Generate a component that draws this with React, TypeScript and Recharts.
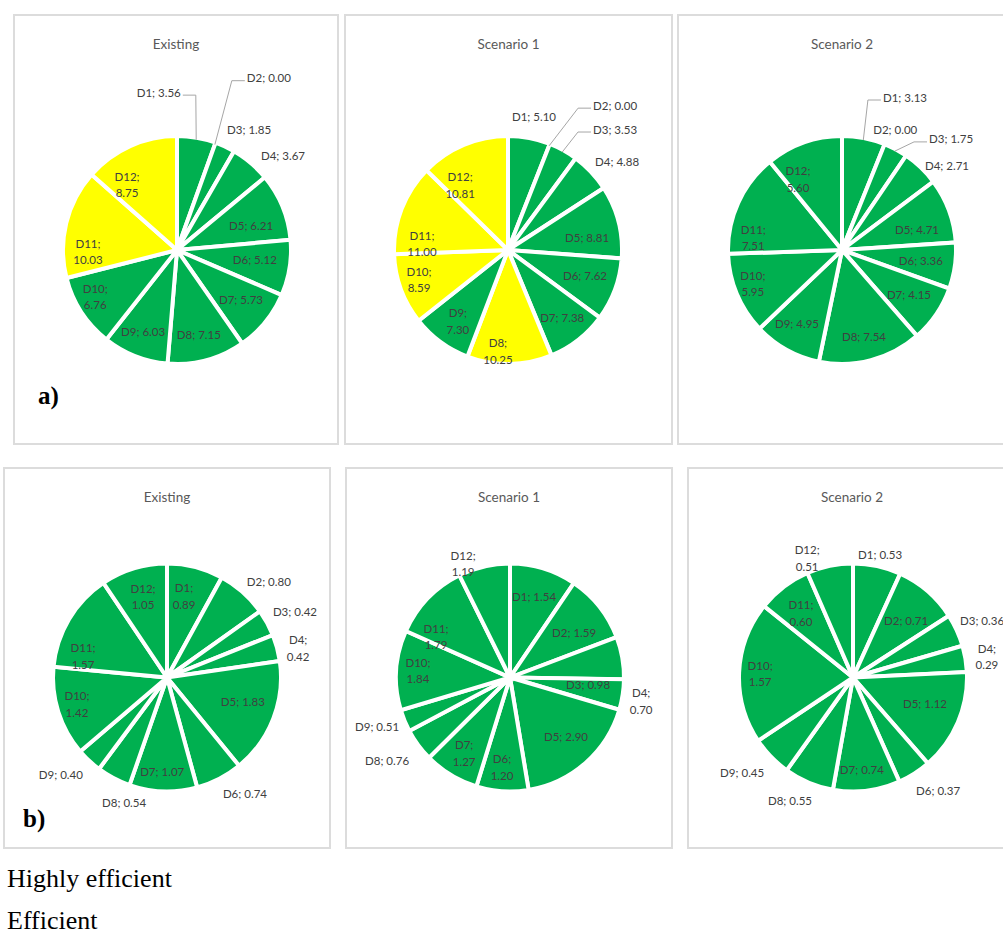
import React from "react"
import { PieChart, Pie, Cell } from "recharts"

// ---- data ----
const districts = ["D1", "D2", "D3", "D4", "D5", "D6", "D7", "D8", "D9", "D10", "D11", "D12"]

const aExisting = [3.56, 0.0, 1.85, 3.67, 6.21, 5.12, 5.73, 7.15, 6.03, 6.76, 10.03, 8.75]
const aScenario1 = [5.1, 0.0, 3.53, 4.88, 8.81, 7.62, 7.38, 10.25, 7.3, 8.59, 11.0, 10.81]
const aScenario2 = [3.13, 0.0, 1.75, 2.71, 4.71, 3.36, 4.15, 7.54, 4.95, 5.95, 7.51, 5.6]

const bExisting = [0.89, 0.8, 0.42, 0.42, 1.83, 0.74, 1.07, 0.54, 0.4, 1.42, 1.57, 1.05]
const bScenario1 = [1.54, 1.59, 0.98, 0.7, 2.9, 1.2, 1.27, 0.76, 0.51, 1.84, 1.79, 1.19]
const bScenario2 = [0.53, 0.71, 0.36, 0.29, 1.12, 0.37, 0.74, 0.55, 0.45, 1.57, 0.6, 0.51]

// districts drawn in yellow (the rest are green)
const aExistingYellow = ["D11", "D12"]
const aScenario1Yellow = ["D8", "D10", "D11", "D12"]
const noYellow: string[] = []

const legendItems = ["Highly efficient", "Efficient"]

// ---- label layout: [radius factor, angle shift (deg, clockwise), lines, leader anchor] ----
type L = [number, number, number, string?]
const layA1: L[] = [
  [1.41, -8.5, 1, "end"], [1.66, 2.3, 1, "start"], [1.25, 6.1, 1], [1.265, 8.2, 1],
  [0.695, 4.4, 1], [0.7, -1.8, 1], [0.725, -1.2, 1], [0.78, 0.6, 1],
  [0.79, 1, 1], [0.84, 3.4, 2], [0.795, -14.6, 2], [0.735, -13.1, 2],
]
const layA2: L[] = [
  [1.21, 0.3, 1], [1.5, 8.9, 1, "start"], [1.32, 6.1, 1, "start"], [1.256, 4.1, 1],
  [0.715, 5.1, 1], [0.723, -2.3, 1], [0.77, -0.9, 1], [0.906, 6.5, 2],
  [0.775, -1, 2], [0.837, 1.9, 2], [0.77, -16.8, 2], [0.72, -13.6, 2],
]
const layA3: L[] = [
  [1.414, 4, 1, "start"], [1.18, 1.8, 1], [1.26, 10, 1, "start"], [1.206, 7.3, 1],
  [0.695, 4.7, 1], [0.71, -0.1, 1], [0.72, -0.4, 1], [0.8, 0.5, 1],
  [0.773, 2.3, 1], [0.85, 2.2, 2], [0.8, -16.4, 2], [0.745, -12.2, 2],
]
const layB1: L[] = [
  [0.744, -2.6, 2], [1.25, 5, 1], [1.286, 1.3, 1], [1.2, 2.4, 2],
  [0.71, -3.7, 1], [1.248, -6.6, 1], [0.84, 1, 1], [1.18, -9, 1],
  [1.283, 4.5, 1], [0.838, 1.1, 2], [0.774, -16.4, 2], [0.754, 0.5, 2],
]
const layB2: L[] = [
  [0.754, -0.5, 1], [0.7, 3.2, 1], [0.7, 15, 1], [1.19, 1.5, 2],
  [0.726, -2, 1], [0.8, 1.2, 2], [0.79, 0, 2], [1.325, 2.3, 1],
  [1.265, 2.1, 1], [0.824, 0.7, 2], [0.755, -14.9, 2], [1.1, -9.2, 2],
]
const layB3: L[] = [
  [1.124, 0.2, 1], [0.695, 2.1, 1], [1.259, 0.7, 1], [1.21, 0.6, 2],
  [0.684, -3.1, 1], [1.262, -4.5, 1], [0.825, 1.4, 1], [1.234, 4.3, 1],
  [1.305, 3.4, 1], [0.83, 0, 2], [0.74, -1.5, 2], [1.143, -9.2, 2],
]

const GREEN = "#00B050"
const YELLOW = "#FFFF00"
const R = 112
const GAP = 4
const RAD = Math.PI / 180
const LABEL_FONT = "Lato, 'Noto Sans', sans-serif"

function makeLabel(values: number[], layout: L[]) {
  return (props: any) => {
    const { cx, cy, midAngle, index } = props
    const [rf, da, lines, leader] = layout[index]
    const mid = 90 - midAngle
    const a = (mid + da) * RAD
    const x = cx + rf * R * Math.sin(a)
    const y = cy - rf * R * Math.cos(a)
    const name = districts[index]
    const v = values[index].toFixed(2)
    const common = { fontSize: 11.5, fill: "#404040", fontFamily: LABEL_FONT }
    if (leader) {
      const m = mid * RAD
      const px = cx + R * Math.sin(m)
      const py = cy - R * Math.cos(m)
      const s = leader === "start" ? -1 : 1
      return (
        <g>
          <path
            d={`M${px},${py} L${x + s * 15},${y + 3} L${x + s * 2},${y + 3}`}
            stroke="#a6a6a6"
            fill="none"
            strokeWidth={1}
          />
          <text x={x} y={y} textAnchor={leader} dominantBaseline="central" {...common}>
            {`${name}; ${v}`}
          </text>
        </g>
      )
    }
    if (lines === 2) {
      return (
        <g>
          <text x={x} y={y - 8.3} textAnchor="middle" dominantBaseline="central" {...common}>
            {`${name};`}
          </text>
          <text x={x} y={y + 8.3} textAnchor="middle" dominantBaseline="central" {...common}>
            {v}
          </text>
        </g>
      )
    }
    return (
      <text x={x} y={y} textAnchor="middle" dominantBaseline="central" {...common}>
        {`${name}; ${v}`}
      </text>
    )
  }
}

type PanelProps = {
  x: number
  y: number
  w: number
  h: number
  cx: number
  cy: number
  title: string
  values: number[]
  yellow: string[]
  layout: L[]
}

function Panel({ x, y, w, h, cx, cy, title, values, yellow, layout }: PanelProps) {
  const data = values.map((v, i) => ({ name: districts[i], value: v }))
  return (
    <div style={{ position: "absolute", left: x, top: y, width: w, height: h }}>
      <div
        style={{
          position: "absolute",
          inset: 0,
          border: "2px solid #dcdcdc",
          boxSizing: "border-box",
        }}
      />
      <div
        style={{
          position: "absolute",
          left: 0,
          width: w,
          top: 22,
          textAlign: "center",
          fontFamily: LABEL_FONT,
          fontSize: 13.5,
          color: "#595959",
        }}
      >
        {title}
      </div>
      <div style={{ position: "absolute", left: 0, top: 0 }}>
        <PieChart width={w} height={h} margin={{ top: 0, right: 0, bottom: 0, left: 0 }}>
          <Pie
            data={data}
            dataKey="value"
            nameKey="name"
            cx={cx}
            cy={cy}
            outerRadius={R + GAP / 2}
            startAngle={90}
            endAngle={-270}
            stroke="#ffffff"
            strokeWidth={GAP}
            labelLine={false}
            label={makeLabel(values, layout)}
            isAnimationActive={false}
          >
            {data.map((d) => (
              <Cell key={d.name} fill={yellow.includes(d.name) ? YELLOW : GREEN} />
            ))}
          </Pie>
        </PieChart>
      </div>
    </div>
  )
}

export default function App() {
  return (
    <div
      style={{
        position: "absolute",
        left: 0,
        top: 0,
        width: 1003,
        height: 933,
        overflow: "hidden",
        background: "#fff",
      }}
    >
      <Panel x={13} y={14} w={326} h={431} cx={164} cy={236} title="Existing" values={aExisting} yellow={aExistingYellow} layout={layA1} />
      <Panel x={344} y={14} w={329} h={431} cx={164} cy={236} title="Scenario 1" values={aScenario1} yellow={aScenario1Yellow} layout={layA2} />
      <Panel x={677} y={14} w={330} h={431} cx={165} cy={236} title="Scenario 2" values={aScenario2} yellow={noYellow} layout={layA3} />

      <Panel x={3} y={467} w={328} h={382} cx={164} cy={210.5} title="Existing" values={bExisting} yellow={noYellow} layout={layB1} />
      <Panel x={345} y={467} w={328} h={382} cx={165} cy={210.5} title="Scenario 1" values={bScenario1} yellow={noYellow} layout={layB2} />
      <Panel x={687} y={467} w={330} h={382} cx={166} cy={210.5} title="Scenario 2" values={bScenario2} yellow={noYellow} layout={layB3} />

      <svg
        width={1003}
        height={933}
        style={{ position: "absolute", left: 0, top: 0, pointerEvents: "none" }}
      >
        <text x={38} y={404} fontFamily="'Liberation Serif', serif" fontWeight="bold" fontSize={25} fill="#000">
          a)
        </text>
        <text x={23} y={827} fontFamily="'Liberation Serif', serif" fontWeight="bold" fontSize={25} fill="#000">
          b)
        </text>
        {legendItems.map((t, i) => (
          <text key={t} x={7} y={887 + i * 42} fontFamily="'Liberation Serif', serif" fontSize={26} fill="#000">
            {t}
          </text>
        ))}
      </svg>
    </div>
  )
}
